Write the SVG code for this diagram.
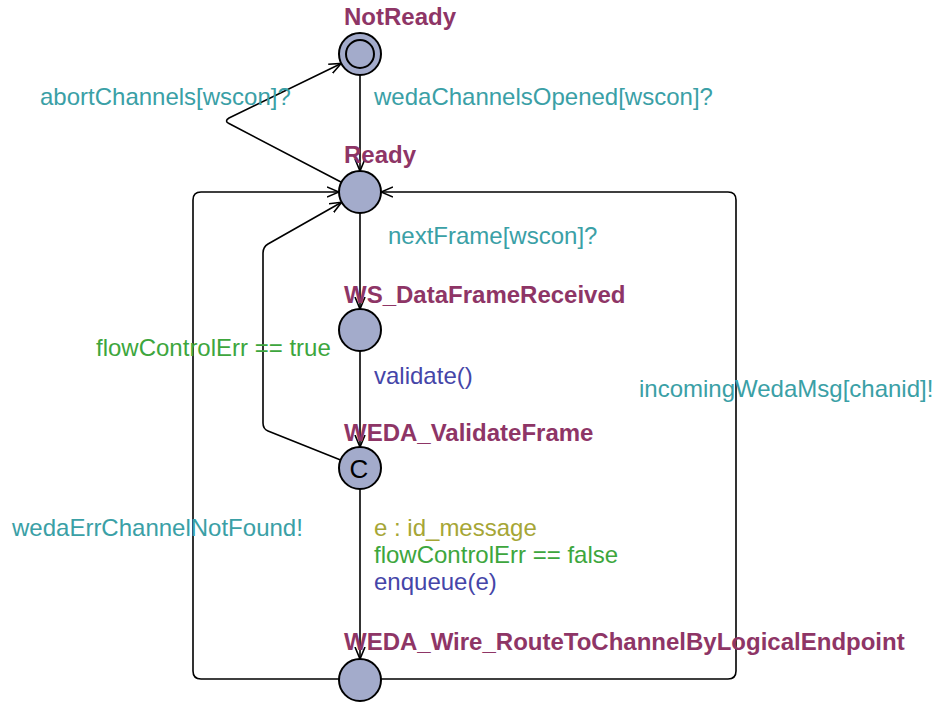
<svg xmlns="http://www.w3.org/2000/svg" width="941" height="702" viewBox="0 0 941 702">
  <style>
    text { font-family: "Liberation Sans", Arial, sans-serif; font-size: 24px; }
    .loc { font-weight: bold; fill: #8e3566; }
    .sync { fill: #3aa0a6; }
    .guard { fill: #3da63d; }
    .upd { fill: #4545a8; }
    .sel { fill: #a6a636; }
    .node { fill: #a3abcb; stroke: #000; stroke-width: 2; }
    .edge { fill: none; stroke: #000; stroke-width: 1.6; stroke-linejoin: round; }
    .committed { font-size: 26px; fill: #000; }
  </style>
  <defs>
    <marker id="arrow" viewBox="0 0 12 12" refX="12" refY="6" markerWidth="12" markerHeight="12" markerUnits="userSpaceOnUse" orient="auto">
      <path d="M0,1 L12,6 L0,11" fill="none" stroke="#000" stroke-width="1.6"/>
    </marker>
  </defs>
  <rect width="941" height="702" fill="#fff"/>

  <g id="edges">
    <!-- NotReady -> Ready -->
    <path class="edge" d="M360,75 L360,171" marker-end="url(#arrow)"/>
    <!-- Ready -> NotReady (abortChannels) -->
    <path class="edge" d="M341.4,182.3 L229,123.5 Q224,121 229,118 L341.2,63.5" marker-end="url(#arrow)"/>
    <!-- Ready -> WS_DataFrameReceived -->
    <path class="edge" d="M360,213 L360,309" marker-end="url(#arrow)"/>
    <!-- WS_DataFrameReceived -> WEDA_ValidateFrame -->
    <path class="edge" d="M360,351 L360,447" marker-end="url(#arrow)"/>
    <!-- WEDA_ValidateFrame -> Ready (flow control error) -->
    <path class="edge" d="M340.6,460 L268,431 Q263,429 263,423 L263,253 Q263,247 268,244 L341.6,202.2" marker-end="url(#arrow)"/>
    <!-- WEDA_ValidateFrame -> WEDA_Wire_RouteToChannelByLogicalEndpoint -->
    <path class="edge" d="M360,489 L360,659" marker-end="url(#arrow)"/>
    <!-- WEDA_Wire -> Ready (left loop) -->
    <path class="edge" d="M339,679 L201,679 Q193,679 193,671 L193,200 Q193,192 201,192 L339,192" marker-end="url(#arrow)"/>
    <!-- WEDA_Wire -> Ready (right loop) -->
    <path class="edge" d="M381,679 L728,679 Q736,679 736,671 L736,200 Q736,192 728,192 L381,192" marker-end="url(#arrow)"/>
  </g>

  <g id="NotReady">
    <circle class="node" cx="360" cy="54" r="21"/>
    <circle cx="360" cy="54" r="14" fill="none" stroke="#000" stroke-width="2"/>
    <text class="loc" x="344" y="25">NotReady</text>
  </g>
  <g id="Ready">
    <circle class="node" cx="360" cy="192" r="21"/>
    <text class="loc" x="344" y="163">Ready</text>
  </g>
  <g id="WS_DataFrameReceived">
    <circle class="node" cx="360" cy="330" r="21"/>
    <text class="loc" x="344" y="303">WS_DataFrameReceived</text>
  </g>
  <g id="WEDA_ValidateFrame">
    <circle class="node" cx="360" cy="468" r="21"/>
    <text class="committed" x="359" y="478" text-anchor="middle">C</text>
    <text class="loc" x="344" y="441">WEDA_ValidateFrame</text>
  </g>
  <g id="WEDA_Wire_RouteToChannelByLogicalEndpoint">
    <circle class="node" cx="360" cy="680" r="21"/>
    <text class="loc" x="344" y="650">WEDA_Wire_RouteToChannelByLogicalEndpoint</text>
  </g>

  <g id="labels">
    <text class="sync" x="40" y="105">abortChannels[wscon]?</text>
    <text class="sync" x="374" y="105">wedaChannelsOpened[wscon]?</text>
    <text class="sync" x="388" y="244">nextFrame[wscon]?</text>
    <text class="guard" x="96" y="356">flowControlErr == true</text>
    <text class="upd" x="374" y="384">validate()</text>
    <text class="sync" x="639" y="397">incomingWedaMsg[chanid]!</text>
    <text class="sync" x="12" y="536">wedaErrChannelNotFound!</text>
    <text class="sel" x="374" y="536">e : id_message</text>
    <text class="guard" x="374" y="563">flowControlErr == false</text>
    <text class="upd" x="374" y="590">enqueue(e)</text>
  </g>
</svg>
